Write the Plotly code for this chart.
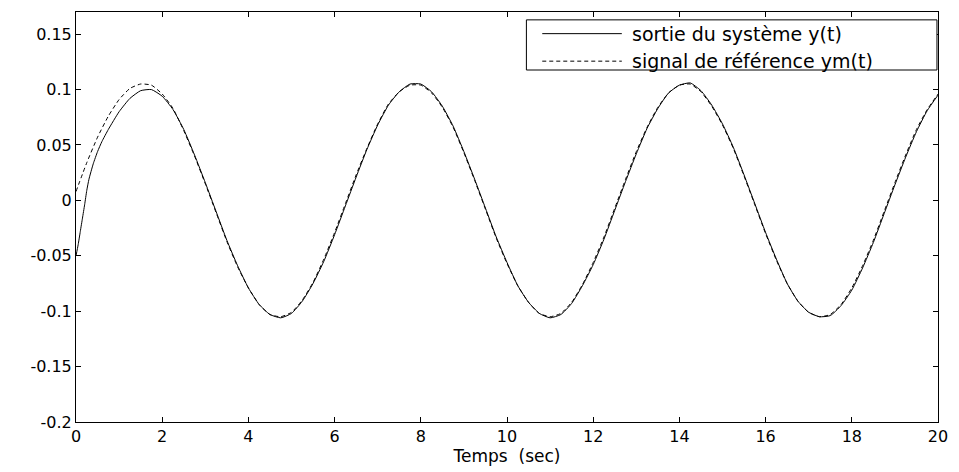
import plotly.graph_objects as go

# --- measured signals -------------------------------------------------------
# start-up transient (dense sampling)
t_start_y = [0.0, 0.05, 0.1, 0.15, 0.2, 0.25, 0.3, 0.4, 0.5, 0.6, 0.75, 1.0, 1.25, 1.5, 1.75, 2.0, 2.25]
y_start = [-0.050, -0.040, -0.028, -0.016, -0.004, 0.009, 0.019, 0.033, 0.044, 0.053, 0.064,
           0.080, 0.092, 0.099, 0.100, 0.094, 0.082]

t_start_ym = [0.0, 0.25, 0.5, 0.75, 1.0, 1.25, 1.5, 1.75, 2.0, 2.25]
ym_start = [0.008, 0.034, 0.057, 0.076, 0.091, 0.101, 0.105, 0.104, 0.096, 0.083]

# steady regime, sampled every 0.25 s from 2.5 s to 20 s
t_tail = [2.5 + 0.25 * k for k in range(71)]

y_tail = [0.064, 0.041, 0.016, -0.010, -0.036, -0.059, -0.079, -0.094, -0.103, -0.106,
          -0.102, -0.091, -0.075, -0.055, -0.031, -0.005, 0.021, 0.046, 0.068, 0.086,
          0.098, 0.105, 0.105, 0.098, 0.085, 0.067, 0.044, 0.019, -0.007, -0.033,
          -0.056, -0.077, -0.092, -0.102, -0.106, -0.103, -0.093, -0.077, -0.058, -0.035,
          -0.009, 0.017, 0.042, 0.065, 0.083, 0.097, 0.104, 0.106, 0.099, 0.086,
          0.069, 0.048, 0.023, -0.003, -0.029, -0.053, -0.075, -0.091, -0.101, -0.105,
          -0.104, -0.095, -0.081, -0.061, -0.038, -0.012, 0.014, 0.039, 0.062, 0.081,
          0.095]

ym_tail = [0.063, 0.040, 0.015, -0.011, -0.037, -0.060, -0.079, -0.094, -0.103, -0.105,
           -0.101, -0.090, -0.074, -0.053, -0.029, -0.003, 0.023, 0.047, 0.069, 0.087,
           0.098, 0.104, 0.104, 0.097, 0.084, 0.066, 0.043, 0.018, -0.008, -0.034,
           -0.057, -0.077, -0.092, -0.102, -0.105, -0.102, -0.092, -0.076, -0.056, -0.033,
           -0.007, 0.019, 0.044, 0.066, 0.084, 0.097, 0.104, 0.105, 0.098, 0.085,
           0.068, 0.047, 0.022, -0.004, -0.030, -0.054, -0.075, -0.091, -0.101, -0.105,
           -0.103, -0.094, -0.079, -0.059, -0.036, -0.010, 0.016, 0.041, 0.064, 0.082,
           0.096]

x_ticks = [0, 2, 4, 6, 8, 10, 12, 14, 16, 18, 20]
y_ticks = [-0.2, -0.15, -0.1, -0.05, 0, 0.05, 0.1, 0.15]
y_tick_labels = ["-0.2", "-0.15", "-0.1", "-0.05", "0", "0.05", "0.1", "0.15"]

legend_labels = ["sortie du système y(t)", "signal de référence ym(t)"]

FONT = "DejaVu Sans"

fig = go.Figure()
fig.add_trace(go.Scatter(
    x=t_start_y + t_tail, y=y_start + y_tail, mode="lines",
    line=dict(color="black", width=1, shape="spline", smoothing=0.5),
    name=legend_labels[0], showlegend=False,
))
fig.add_trace(go.Scatter(
    x=t_start_ym + t_tail, y=ym_start + ym_tail, mode="lines",
    line=dict(color="black", width=1, dash="4px,3px", shape="spline", smoothing=0.5),
    name=legend_labels[1], showlegend=False,
))

axis_common = dict(
    showline=True, linecolor="black", linewidth=1, mirror="ticks",
    ticks="inside", ticklen=5, tickcolor="black", tickwidth=1,
    showgrid=False, zeroline=False,
    tickfont=dict(family=FONT, size=16, color="black"),
)

fig.update_xaxes(range=[0, 20], tickvals=x_ticks,
                 title=dict(text="Temps  (sec)", standoff=3,
                            font=dict(family=FONT, size=17, color="black")),
                 **axis_common)
fig.update_yaxes(range=[-0.2, 0.17], tickvals=y_ticks, ticktext=y_tick_labels,
                 **axis_common)

# boxed legend in the upper right corner of the axes
box = dict(x0=0.5225, x1=0.9988, y0=0.8585, y1=0.9808)
fig.add_shape(type="rect", xref="paper", yref="paper", **box,
              line=dict(color="black", width=1), fillcolor="white", layer="above")
rows = [(0.9472, "solid"), (0.8801, "4px,3px")]
for (yy, dash), label in zip(rows, legend_labels):
    fig.add_shape(type="line", xref="paper", yref="paper",
                  x0=0.5409, x1=0.6332, y0=yy, y1=yy,
                  line=dict(color="black", width=1, dash=dash), layer="above")
    fig.add_annotation(xref="paper", yref="paper", x=0.6424, y=yy, text=label,
                       showarrow=False, xanchor="left", yanchor="middle",
                       font=dict(family=FONT, size=19, color="black"))

fig.update_layout(
    width=959, height=472,
    margin=dict(l=76, r=16, t=11, b=44),
    paper_bgcolor="white", plot_bgcolor="white",
    font=dict(family=FONT, color="black"),
)

fig.write_html("out.html")
